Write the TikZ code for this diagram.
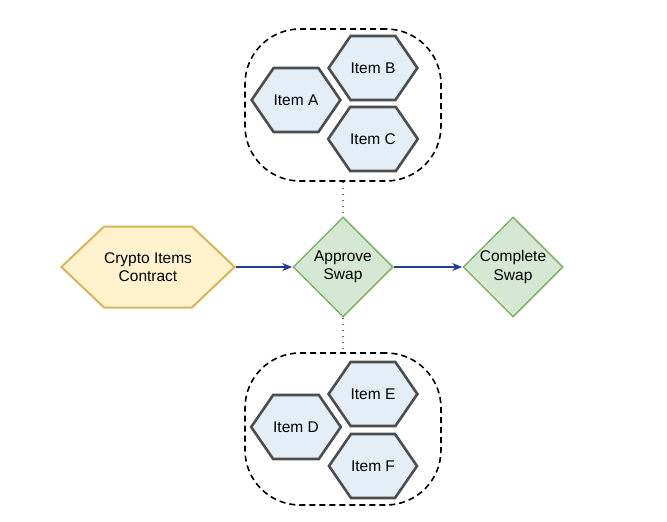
\documentclass[tikz,border=0pt]{standalone}
\usepackage{fontspec}
\setmainfont{Liberation Sans}
\usetikzlibrary{
  arrows.meta,
  shapes.geometric,
  shapes.symbols,
  positioning
}
\definecolor{swItem}{HTML}{E4EEF6}
\definecolor{swItemLine}{HTML}{4D4D4D}
\definecolor{swContract}{HTML}{FFF2CC}
\definecolor{swContractLine}{HTML}{D6B656}
\definecolor{swAction}{HTML}{D5E8D4}
\definecolor{swActionLine}{HTML}{82B366}
\definecolor{swFlow}{HTML}{263A99}
\definecolor{swLink}{HTML}{5064B8}
\tikzset{
  swnode/.style={
    draw, inner sep=0pt, align=center,
    font=\fontsize{15.5}{18.5}\selectfont
  },
  hexa/.style={swnode, signal, signal to=west and east},
  item/.style={hexa, fill=swItem, draw=swItemLine, line width=2.6pt,
    minimum width=88pt, minimum height=64pt, signal pointer angle=111},
  contract/.style={hexa, fill=swContract, draw=swContractLine, line width=2pt,
    minimum width=171pt, minimum height=81pt, signal pointer angle=87},
  action/.style={swnode, diamond, fill=swAction, draw=swActionLine, line width=1.5pt,
    minimum width=100pt, minimum height=100pt},
  group/.style={draw, dash pattern=on 6pt off 4pt, line width=1.6pt,
    rounded corners=55pt, minimum width=196pt, minimum height=152pt},
  flow/.style={-{Stealth[length=10pt, width=8pt]}, line width=1.6pt, swFlow},
  link/.style={dash pattern=on 1.5pt off 4.5pt, line width=1.3pt, swLink}
}
\begin{document}
\begin{tikzpicture}[x=1pt, y=-1pt]
  \useasboundingbox (0,0) rectangle (667,522);
  % main flow
  \node[contract] (contract) at (148,267) {Crypto Items\\Contract};
  \node[action] (approve) at (343,267) {Approve\\Swap};
  \node[action] (complete) at (513,267) {Complete\\Swap};
  % upper item set
  \node[group] (setA) at (343,105) {};
  \node[item] (itemA) at (296,100) {Item A};
  \node[item] (itemB) at (373,68) {Item B};
  \node[item] (itemC) at (373,139) {Item C};
  % lower item set
  \node[group] (setB) at (343,429) {};
  \node[item] (itemD) at (296,427) {Item D};
  \node[item] (itemE) at (373,394) {Item E};
  \node[item] (itemF) at (373,466) {Item F};
  \draw[flow] (contract) -- (approve);
  \draw[flow] (approve) -- (complete);
  \draw[link] (setA) -- (approve);
  \draw[link] (approve) -- (setB);
\end{tikzpicture}
\end{document}
